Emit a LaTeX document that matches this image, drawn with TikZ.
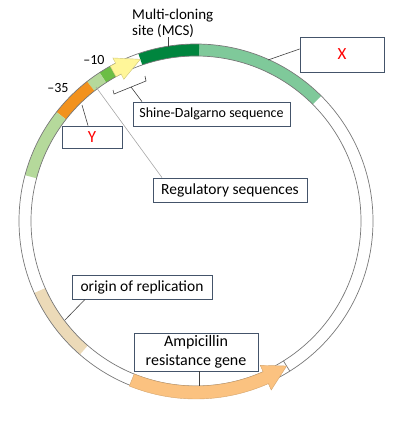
\documentclass[tikz,border=0pt]{standalone}
\usepackage{fontspec}
\setmainfont{Carlito}
\definecolor{xgreen}{HTML}{7FC99A}
\definecolor{mcsgreen}{HTML}{00853E}
\definecolor{yell}{HTML}{FFF699}
\definecolor{midgreen}{HTML}{6CBE45}
\definecolor{palegreen}{HTML}{B5D99B}
\definecolor{orng}{HTML}{F2921E}
\definecolor{tan}{HTML}{ECDAB8}
\definecolor{amp}{HTML}{FBC280}
\definecolor{ringgray}{HTML}{787878}
\definecolor{boxline}{HTML}{44546A}
\newcommand{\ringseg}[3]{\fill[#3] (#1:165) arc[start angle=#1,end angle=#2,radius=165] -- (#2:177) arc[start angle=#2,end angle=#1,radius=177] -- cycle;}
\newcommand{\fsz}[1]{\fontsize{#1}{17}\selectfont}
\begin{document}
\begin{tikzpicture}[x=1pt,y=1pt,
  lbox/.style={draw=boxline,line width=0.8pt,fill=white,inner sep=2pt,align=center},
  rbox/.style={lbox,text=red,font=\fontsize{17}{19}\selectfont},
  lead/.style={draw=black!75,line width=0.6pt},
  ringline/.style={draw=ringgray,line width=0.7pt},
  lbl/.style={font=\fontsize{15}{16}\selectfont,inner sep=0pt}]
\useasboundingbox (0,0) rectangle (416,-423);
\begin{scope}[shift={(196,-221)}]
  % colored segments
  \ringseg{45}{89}{xgreen}
  \ringseg{89}{109}{mcsgreen}
  \ringseg{119}{123}{midgreen}
  \ringseg{123}{128}{palegreen}
  \ringseg{128}{142}{orng}
  \ringseg{142}{165}{palegreen}
  \ringseg{204}{229}{tan}
  % ring outline
  \draw[ringline] (0,0) circle (177);
  \draw[ringline] (0,0) circle (165);
  \draw[ringline] (302:165) -- (302:177);
  % yellow promoter arrow
  \filldraw[fill=yell,draw=yell!80!black,line width=0.4pt]
    (119:165) arc[start angle=119,end angle=117,radius=165] -- (117:159) -- (109:171)
    -- (117:183) -- (117:177) arc[start angle=117,end angle=119,radius=177] -- cycle;
  % ampicillin arrow
  \filldraw[fill=amp,draw=amp!85!black,line width=0.4pt]
    (248:165) arc[start angle=248,end angle=294,radius=165] -- (294:158) -- (302:171)
    -- (294:185) -- (294:178) arc[start angle=294,end angle=248,radius=178] -- cycle;
\end{scope}
% ring anchor coordinates
\coordinate (mcsP) at (168,-47);
\coordinate (xP) at (268,-60);
\coordinate (yP) at (82,-105);
\coordinate (regP) at (96,-87);
\coordinate (oriP) at (65,-320);
\coordinate (ampP) at (199,-386);
\coordinate (brA) at (113,-90);
\coordinate (brB) at (114,-94);
\coordinate (brC) at (146,-81);
\coordinate (brD) at (145,-76);
\coordinate (brM) at (131,-87);
% labels
\node[lbl,anchor=west,align=left] (mcs) at (132,-23) {Multi-cloning\\site (MCS)};
\node[lbl,font=\fontsize{14}{16}\selectfont] (m10) at (94,-60) {\textendash10};
\node[lbl,font=\fontsize{14}{16}\selectfont] (m35) at (58,-88) {\textendash35};
\node[rbox,minimum width=84,minimum height=35] (X) at (342,-54.5) {X};
\node[rbox,minimum width=60,minimum height=22] (Y) at (92,-137) {Y};
\node[lbox,minimum width=157,minimum height=24,font=\fsz{14}] (sd) at (211.5,-114) {Shine-Dalgarno sequence};
\node[lbox,minimum width=154,minimum height=24,font=\fsz{15.5}] (reg) at (230,-190) {Regulatory sequences};
\node[lbox,minimum width=140,minimum height=24,font=\fsz{15.5}] (ori) at (142,-287) {origin of replication};
\node[lbox,minimum width=124,minimum height=38,font=\fontsize{16}{19}\selectfont] (ampb) at (196,-352) {Ampicillin\\resistance gene};
% leader lines
\draw[lead] (mcs.south west -| mcsP) -- (mcsP);
\draw[lead] (X.west |- 0,-49) -- (xP);
\draw[lead] (Y.north -| 88,0) -- (yP);
\draw[lead] (brA) -- (brB) -- (brC) -- (brD);
\draw[lead] (brM) -- (sd.north -| 142,0);
\draw[draw=black!35,line width=0.6pt] (reg.north -| 162,0) -- (regP);
\draw[lead] (ori.south -| 85,0) -- (oriP);
\draw[lead] (ampb.south -| ampP) -- (ampP);
\end{tikzpicture}
\end{document}
